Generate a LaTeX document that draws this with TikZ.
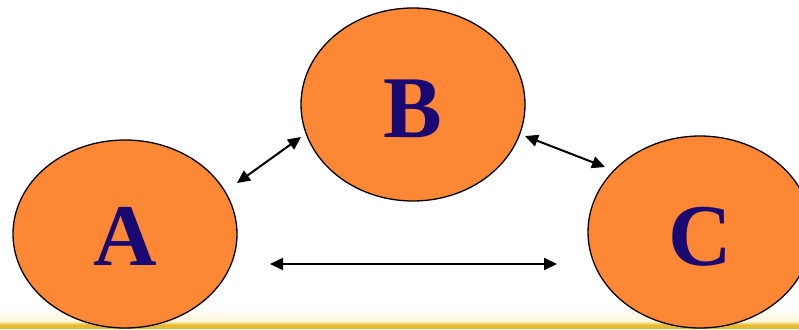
\documentclass[tikz,border=0pt]{standalone}
\usepackage{fontspec}
\setmainfont{Liberation Serif}
\usetikzlibrary{shapes.geometric,arrows.meta}
\definecolor{bubble}{HTML}{FC8836}
\definecolor{ink}{HTML}{1A0873}
\definecolor{gold}{HTML}{E6B92E}
\definecolor{paleyel}{HTML}{FCF6D8}
\begin{document}
\begin{tikzpicture}[x=1pt,y=-1pt,
  bubble/.style={ellipse, draw=black, line width=1.3pt, fill=bubble, text=ink,
    font=\bfseries\fontsize{88}{88}\selectfont, inner sep=0pt},
  link/.style={line width=2pt, {Triangle[length=13pt,width=12pt]}-{Triangle[length=13pt,width=12pt]}}]
\useasboundingbox (0,0) rectangle (799,329);
\clip (0,0) rectangle (799,329);
% bottom band
\shade[top color=white, bottom color=paleyel] (0,308) rectangle (799,321);
\shade[top color=paleyel, bottom color=gold] (0,321) rectangle (799,325);
\fill[gold] (0,325) rectangle (799,329);
% ellipses
\node[bubble, minimum width=224pt, minimum height=188pt] (A) at (125,234) {};
\node[bubble, minimum width=224pt, minimum height=193pt] (B) at (413,104.5) {};
\node[bubble, minimum width=224pt, minimum height=192pt] (C) at (700,232) {};
\node[text=ink, font=\bfseries\fontsize{88}{88}\selectfont, anchor=base] (la) at (125,265) {A};
\node[text=ink, font=\bfseries\fontsize{88}{88}\selectfont, anchor=base] (lb) at (413,137) {B};
\node[text=ink, font=\bfseries\fontsize{88}{88}\selectfont, anchor=base] (lc) at (700,265) {C};
% connector ends
\coordinate (ab1) at (237,183);
\coordinate (ab2) at (301,137);
\coordinate (bc1) at (525,136);
\coordinate (bc2) at (605,167);
\coordinate (ac1) at (270,264);
\coordinate (ac2) at (557,264);
\draw[link] (ab1) -- (ab2);
\draw[link] (bc1) -- (bc2);
\draw[link] (ac1) -- (ac2);
\end{tikzpicture}
\end{document}
